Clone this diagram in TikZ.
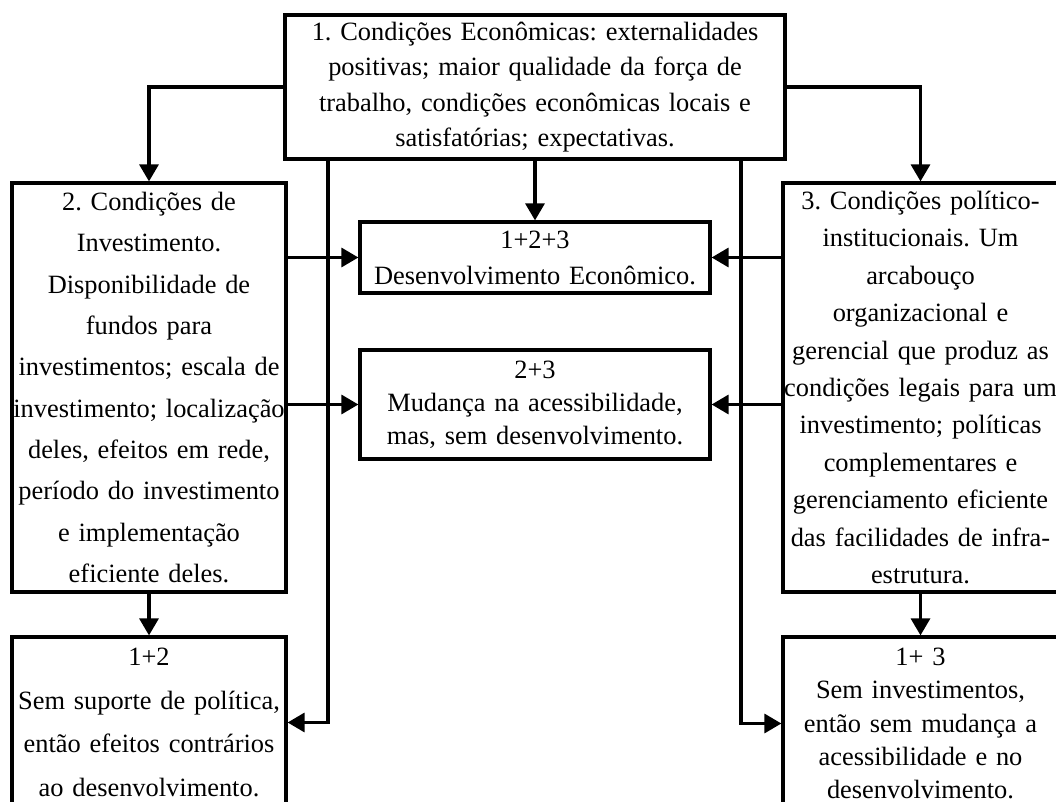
\documentclass[tikz,border=0pt]{standalone}
\usepackage{fontspec}
\setmainfont{Liberation Serif}
\usetikzlibrary{arrows.meta}
\frenchspacing

\tikzset{
  caixa/.style={draw, line width=1.6pt, inner sep=0pt, align=center,
    text width=#1, minimum width=#1},
  seta/.style={line width=1.6pt, -{Triangle[length=8.5pt,width=9.5pt]}},
}
\newcommand{\entrelinha}[1]{\fontsize{13.2pt}{#1}\selectfont}

\begin{document}
\begin{tikzpicture}[x=0.5pt, y=-0.5pt]
\useasboundingbox (0,0) rectangle (1056,802);

% caixas
\node[caixa=250pt, minimum height=72pt, font=\entrelinha{17.75pt}] (econ) at (535,87)
  {1. Condições Econômicas: externalidades\\ positivas; maior qualidade da força de\\
   trabalho, condições econômicas locais e\\ satisfatórias; expectativas.};
\node[caixa=137pt, minimum height=204.5pt, font=\entrelinha{20.67pt}] (invest) at (149,387.5)
  {2. Condições de\\ Investimento.\\ Disponibilidade de\\ fundos para\\ investimentos; escala de\\
   investimento; localização\\ deles, efeitos em rede,\\ período do investimento\\
   e implementação\\ eficiente deles.};
\node[caixa=137.5pt, minimum height=204.5pt, font=\entrelinha{18.7pt}] (polit) at (920.5,387.5)
  {3. Condições político-\\ institucionais. Um\\ arcabouço\\ organizacional e\\
   gerencial que produz as\\ condições legais para um\\ investimento; políticas\\
   complementares e\\ gerenciamento eficiente\\ das facilidades de infra-\\ estrutura.};
\node[caixa=175pt, minimum height=35.5pt, font=\entrelinha{18pt}] (desenv) at (535,257.5)
  {1+2+3\\ Desenvolvimento Econômico.};
\node[caixa=175pt, minimum height=54.5pt, font=\entrelinha{16.5pt}] (mudanca) at (535,404.5)
  {2+3\\ Mudança na acessibilidade,\\ mas, sem desenvolvimento.};
\node[caixa=137pt, minimum height=85.5pt, font=\entrelinha{21.8pt}] (sempol) at (149,722.5)
  {1+2\\ Sem suporte de política,\\ então efeitos contrários\\ ao desenvolvimento.};
\node[caixa=137.5pt, minimum height=86.5pt, font=\entrelinha{16.6pt}] (seminv) at (920.5,723.5)
  {1+ 3\\ Sem investimentos,\\ então sem mudança a\\ acessibilidade e no\\ desenvolvimento.};

% setas
\draw[seta] (econ.west) -| (invest.north);
\draw[seta] (econ.east) -| (polit.north);
\draw[seta] (econ.south) -- (desenv.north);
\draw[seta] ([xshift=-103.5pt]econ.south) |- (sempol.east);
\draw[seta] ([xshift=103pt]econ.south) |- (seminv.west);
\draw[seta] (invest.east |- desenv.west) -- (desenv.west);
\draw[seta] (polit.west |- desenv.east) -- (desenv.east);
\draw[seta] (invest.east |- mudanca.west) -- (mudanca.west);
\draw[seta] (polit.west |- mudanca.east) -- (mudanca.east);
\draw[seta] (invest.south) -- (sempol.north);
\draw[seta] (polit.south) -- (seminv.north);
\end{tikzpicture}
\end{document}
